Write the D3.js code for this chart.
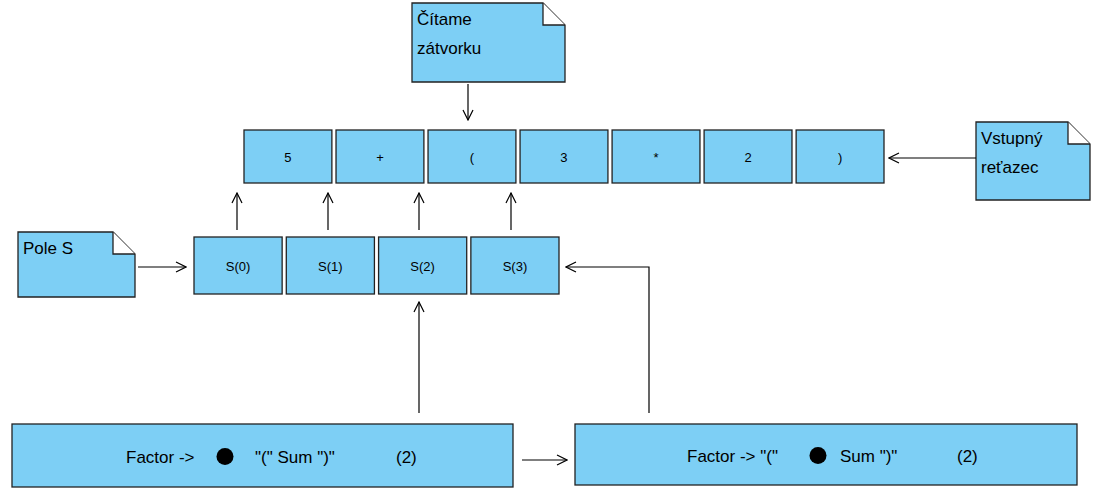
<!DOCTYPE html><html><head><meta charset="utf-8"><script src="https://cdn.jsdelivr.net/npm/d3@7"></script>
<style>body{margin:0;background:#fff}text{font-family:Arial,"Liberation Sans",sans-serif}</style></head><body>
<script>
const inputTokens=["5","+","(","3","*","2",")"];
const stackLabels=["S(0)","S(1)","S(2)","S(3)"];
const notes=[{lines:["Čítame","zátvorku"],x:412,y:3,w:153,h:79},{lines:["Vstupný","reťazec"],x:976,y:122,w:114,h:78},{lines:["Pole S"],x:18,y:232,w:117,h:65}];
const rules=[{parts:["Factor -> ","●",' "(" Sum ")"',"(2)"],x:12,y:424,w:501,h:63},{parts:['Factor -> "("',"●",' Sum ")"',"(2)"],x:575,y:424,w:502,h:61}];
const fill="#7dcff5",stroke="#222";
const svg=d3.select("body").append("svg").attr("width",1108).attr("height",497);
const defs=svg.append("defs");
defs.append("marker").attr("id","ah").attr("viewBox","0 0 12 12").attr("refX",11).attr("refY",6).attr("markerWidth",12).attr("markerHeight",12).attr("markerUnits","userSpaceOnUse").attr("orient","auto")
 .append("path").attr("d","M1,1L11,6L1,11").attr("fill","none").attr("stroke","#000").attr("stroke-width",1.2);
const xIn=d3.scaleBand().domain(d3.range(inputTokens.length)).range([244,884]).paddingInner(0.045).paddingOuter(0);
const xS=d3.scaleBand().domain(d3.range(stackLabels.length)).range([194,559]).paddingInner(0.045).paddingOuter(0);
function cells(data,scale,y,h){
 const g=svg.append("g").selectAll("g").data(data).join("g").attr("transform",(d,i)=>`translate(${scale(i)},${y})`);
 g.append("rect").attr("width",scale.bandwidth()).attr("height",h).attr("fill",fill).attr("stroke",stroke).attr("stroke-width",1.3);
 g.append("text").attr("x",scale.bandwidth()/2).attr("y",h/2+5).attr("text-anchor","middle").attr("font-size",13).text(d=>d);
}
cells(inputTokens,xIn,130,53);
cells(stackLabels,xS,237,57);
notes.forEach(n=>{const c=22;
 const g=svg.append("g").attr("transform",`translate(${n.x},${n.y})`);
 g.append("path").attr("d",`M0,0H${n.w-c}L${n.w},${c}V${n.h}H0Z`).attr("fill",fill).attr("stroke",stroke).attr("stroke-width",1.3);
 g.append("path").attr("d",`M${n.w-c},0V${c}H${n.w}`).attr("fill","#fff").attr("stroke",stroke).attr("stroke-width",1.3);
 n.lines.forEach((l,i)=>g.append("text").attr("x",5).attr("y",22+i*29).attr("font-size",17).text(l));
});
rules.forEach(r=>{
 const g=svg.append("g").attr("transform",`translate(${r.x},${r.y})`);
 g.append("rect").attr("width",r.w).attr("height",r.h).attr("fill",fill).attr("stroke",stroke).attr("stroke-width",1.3);
 const t=g.append("text").attr("y",r.h/2+7).attr("font-size",17);
 const xs=r.x<100?[114,205,243,384]:[112,235,265,382];
 r.parts.forEach((p,i)=>{
  if(p==="●") g.append("circle").attr("cx",xs[i]+8).attr("cy",r.h/2+1).attr("r",8.5).attr("fill","#000");
  else g.append("text").attr("x",xs[i]).attr("y",r.h/2+7).attr("font-size",17).text(p.trim());
 });
});
const arrows=[[[468,84],[468,120]],[[976,158],[889,158]],[[138,267],[186,267]],
 ...xS.domain().map(i=>[[xIn(i)-7+(i===0?0:0)+0,230],[xIn(i)-7,193]]),
 [[419,413],[419,302]],[[649,413],[649,267],[566,267]],[[522,460],[567,460]]];
// stack-to-input arrows at centers of stack cells' left parts
const upX=[237,328,419,511];
arrows.splice(3,4,...upX.map(x=>[[x,230],[x,193]]));
arrows.forEach(a=>svg.append("path").attr("d",d3.line()(a)).attr("fill","none").attr("stroke","#000").attr("stroke-width",1.2).attr("marker-end","url(#ah)"));
</script></body></html>
